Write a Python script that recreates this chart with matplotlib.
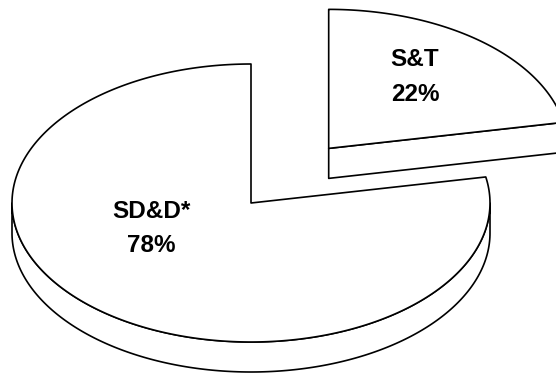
import numpy as np
import matplotlib
matplotlib.use("Agg")
import matplotlib.pyplot as plt
from matplotlib.patches import Polygon

# ---- data ----
categories = ["S&T", "SD&D*"]
values = [22, 78]

# ---- layout (pixel space) ----
W, H = 556, 375
rx, ry = 239, 139          # ellipse radii of the top face
depth = 30                 # pie thickness
base_center = (251, 203)   # center of the un-exploded pie
explode = [0.51, 0.0]
start_angle = 90.0
label_pos = {"S&T": (415, 66, 101), "SD&D*": (151, 218, 252)}

fig = plt.figure(figsize=(W / 100, H / 100), dpi=100)
ax = fig.add_axes([0, 0, 1, 1])
ax.set_xlim(0, W)
ax.set_ylim(H, 0)
ax.axis("off")

LW = 1.2
FS = 17.5


def pt(c, t, dz=0.0):
    r = np.deg2rad(t)
    return np.column_stack([c[0] + rx * np.cos(r), c[1] - ry * np.sin(r) + dz])


total = float(sum(values))
angle = start_angle
wedges = []
for cat, v, ex in zip(categories, values, explode):
    span = 360.0 * v / total
    t1, t0 = angle, angle - span      # clockwise
    angle = t0
    mid = np.deg2rad((t0 + t1) / 2)
    c = (base_center[0] + ex * rx * np.cos(mid), base_center[1] - ex * ry * np.sin(mid))
    wedges.append((cat, v, c, t0, t1))

# draw back wedges first (the exploded one sits behind)
order = sorted(range(len(wedges)), key=lambda i: wedges[i][2][1])
for i in order:
    cat, v, c, t0, t1 = wedges[i]
    lo, hi = t0, t1
    # normalise into range where front side is [180, 360]
    while lo < 0:
        lo += 360
        hi += 360
    # outer side face (front visible part)
    a = max(lo, 180.0)
    b = min(hi, 360.0)
    if b > a:
        ts = np.linspace(a, b, 200)
        top = pt(c, ts)
        bot = pt(c, ts[::-1], depth)
        ax.add_patch(Polygon(np.vstack([top, bot]), closed=True, facecolor="white",
                             edgecolor="black", lw=LW, joinstyle="round"))
    # radial side faces visible from the front
    for edge_t, sign in ((lo, 1), (hi, -1)):
        e = edge_t % 360
        # the face at edge angle e is visible if its outward normal points toward viewer
        normal = np.deg2rad(e - 90 * sign)
        if np.sin(normal) < -1e-6 and not (180 <= e <= 360):
            p = pt(c, [edge_t])[0]
            quad = np.array([c, p, p + [0, depth], (c[0], c[1] + depth)])
            ax.add_patch(Polygon(quad, closed=True, facecolor="white",
                                 edgecolor="black", lw=LW, joinstyle="round"))
    # top face
    ts = np.linspace(lo, hi, 300)
    arc = pt(c, ts)
    ax.add_patch(Polygon(np.vstack([[c], arc]), closed=True, facecolor="white",
                         edgecolor="black", lw=LW, joinstyle="round"))

for cat, v, c, t0, t1 in wedges:
    x, y1, y2 = label_pos[cat]
    ax.text(x, y1, cat, ha="center", va="baseline", fontsize=FS, fontweight="bold",
            family="Liberation Sans")
    ax.text(x, y2, f"{v}%", ha="center", va="baseline", fontsize=FS, fontweight="bold",
            family="Liberation Sans")

fig.savefig("out.png", dpi=100, facecolor="white")
